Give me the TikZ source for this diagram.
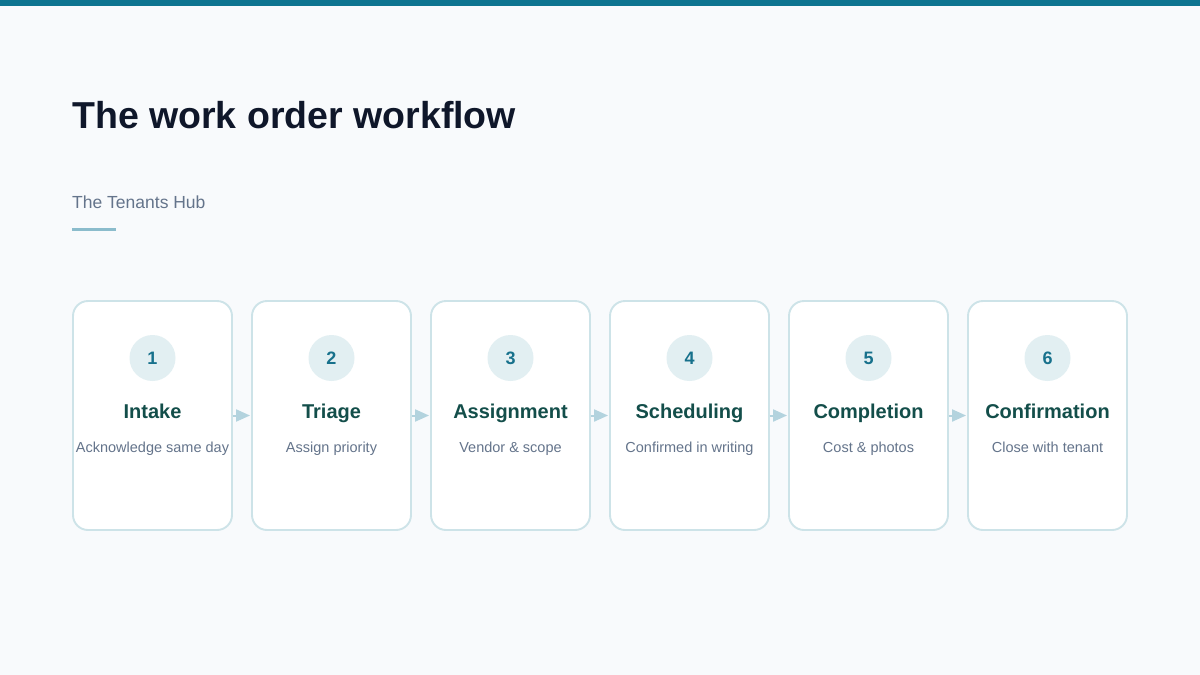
\documentclass[tikz,border=0pt]{standalone}
\usepackage{fontspec}
\setmainfont{Liberation Sans}
\usetikzlibrary{arrows.meta}
\definecolor{bgc}{HTML}{F8FAFC}
\definecolor{barc}{HTML}{0E7490}
\definecolor{titlec}{HTML}{0F172A}
\definecolor{subc}{HTML}{64748B}
\definecolor{linec}{HTML}{8BBCCC}
\definecolor{boxborder}{HTML}{CDE3E8}
\definecolor{circfill}{HTML}{E2EFF2}
\definecolor{numc}{HTML}{17718C}
\definecolor{steptitle}{HTML}{134E4A}
\definecolor{arrowc}{HTML}{B3D3DE}
\tikzset{
  stepbox/.style={draw=boxborder, line width=1.9pt, fill=white, rounded corners=15pt,
    minimum width=159pt, minimum height=229pt, inner sep=0pt},
  numcirc/.style={circle, fill=circfill, minimum size=46pt, inner sep=0pt,
    font=\fontsize{18}{20}\selectfont\bfseries, text=numc},
  sttl/.style={font=\fontsize{20}{24}\selectfont\bfseries, text=steptitle, inner sep=0pt},
  sdesc/.style={font=\fontsize{14.5}{17}\selectfont, text=subc, inner sep=0pt},
  flowarrow/.style={draw=arrowc, line width=2pt, -{Triangle[length=14pt,width=12pt]}, shorten >=1pt}
}
\begin{document}
\begin{tikzpicture}[x=1pt,y=-1pt]
\useasboundingbox (0,0) rectangle (1200,675);
\fill[bgc] (0,0) rectangle (1200,675);
\fill[barc] (0,0) rectangle (1200,6);
\node[anchor=base west, inner sep=0pt, text=titlec, font=\fontsize{37.5}{42}\selectfont\bfseries] (title) at (72,128) {The work order workflow};
\node[anchor=base west, inner sep=0pt, text=subc, font=\fontsize{17.5}{20}\selectfont] (sub) at (72,208) {The Tenants Hub};
\fill[linec] (72,228) rectangle (116,231);
\foreach \i in {1,...,6}{
  \pgfmathsetmacro{\cx}{152.5+179*(\i-1)}
  \node[stepbox] (b\i) at (\cx,415.5) {};
}
\draw[flowarrow] (b1.east) -- (b2.west);
\draw[flowarrow] (b2.east) -- (b3.west);
\draw[flowarrow] (b3.east) -- (b4.west);
\draw[flowarrow] (b4.east) -- (b5.west);
\draw[flowarrow] (b5.east) -- (b6.west);
\foreach \i/\ttl/\dsc in {1/Intake/Acknowledge same day, 2/Triage/Assign priority, 3/Assignment/Vendor \& scope, 4/Scheduling/Confirmed in writing, 5/Completion/Cost \& photos, 6/Confirmation/Close with tenant}{
  \pgfmathsetmacro{\cx}{152.5+179*(\i-1)}
  \node[numcirc] (c\i) at (\cx,358) {\i};
  \node[sttl, anchor=base] (t\i) at (\cx,418) {\ttl};
  \node[sdesc, anchor=base] (d\i) at (\cx,452) {\dsc};
}
\end{tikzpicture}
\end{document}
